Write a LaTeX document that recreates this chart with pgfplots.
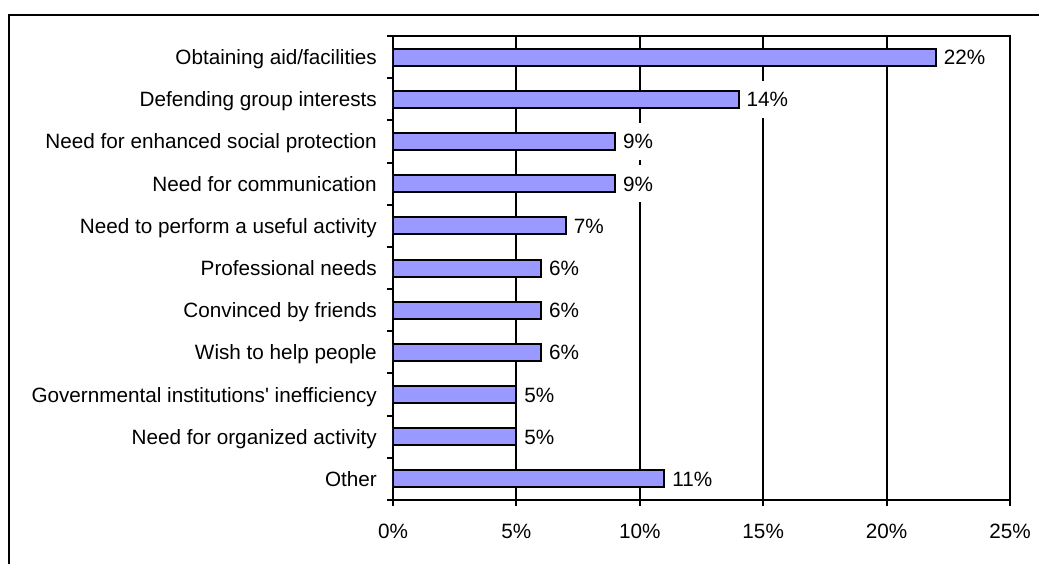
\documentclass[border=0pt]{standalone}
\usepackage{fontspec}
\setmainfont{Liberation Sans}
\usepackage{pgfplots}
\pgfplotsset{compat=1.18}
\definecolor{barfill}{HTML}{9999FF}
\begin{document}
\begin{tikzpicture}[font=\fontsize{20.7}{25}\selectfont]
\begin{axis}[
  at={(393pt,63pt)}, anchor=south west,
  scale only axis, width=617pt, height=464pt,
  xmin=0, xmax=25, ymin=0.5, ymax=11.5,
  xbar, bar width=17pt,
  axis line style={line width=2pt},
  xtick={0,5,10,15,20,25},
  xticklabels={0\%,5\%,10\%,15\%,20\%,25\%},
  ytick={1,...,11},
  yticklabels={Other, Need for organized activity, Governmental institutions\textquotesingle{} inefficiency, Wish to help people, Convinced by friends, Professional needs, Need to perform a useful activity, Need for communication, Need for enhanced social protection, Defending group interests, Obtaining aid/facilities},
  tick pos=left,
  tick align=outside, major tick length=6pt,
  xtick style={draw=black, line width=2pt},
  ytick style={draw=none},
  extra y ticks={0.5,1.5,...,11.5},
  extra y tick labels={},
  extra y tick style={grid=none, ytick style={draw=black, line width=2pt}},
  xmajorgrids, grid style={black, line width=2pt},
  yticklabel style={inner sep=0pt, anchor=east, xshift=-10pt, text height=15pt, text depth=0pt},
  xticklabel style={inner sep=0pt, anchor=north, yshift=-18pt},
  nodes near coords={\pgfmathprintnumber[assume math mode=true]{\pgfplotspointmeta}\%},
  nodes near coords align=horizontal,
  every node near coord/.append style={fill=white, anchor=west, inner xsep=7pt, inner ysep=7pt, text height=19pt, text depth=4pt},
]
\addplot[fill=barfill, draw=black, line width=2pt] coordinates {
  (11,1) (5,2) (5,3) (6,4) (6,5) (6,6) (7,7) (9,8) (9,9) (14,10) (22,11)
};
\end{axis}
\draw[line width=2pt] (9pt,-20pt) -- (9pt,548pt) -- (1060pt,548pt);
\pgfresetboundingbox
\useasboundingbox (0pt,0pt) rectangle (1039pt,563pt);
\end{tikzpicture}
\end{document}
